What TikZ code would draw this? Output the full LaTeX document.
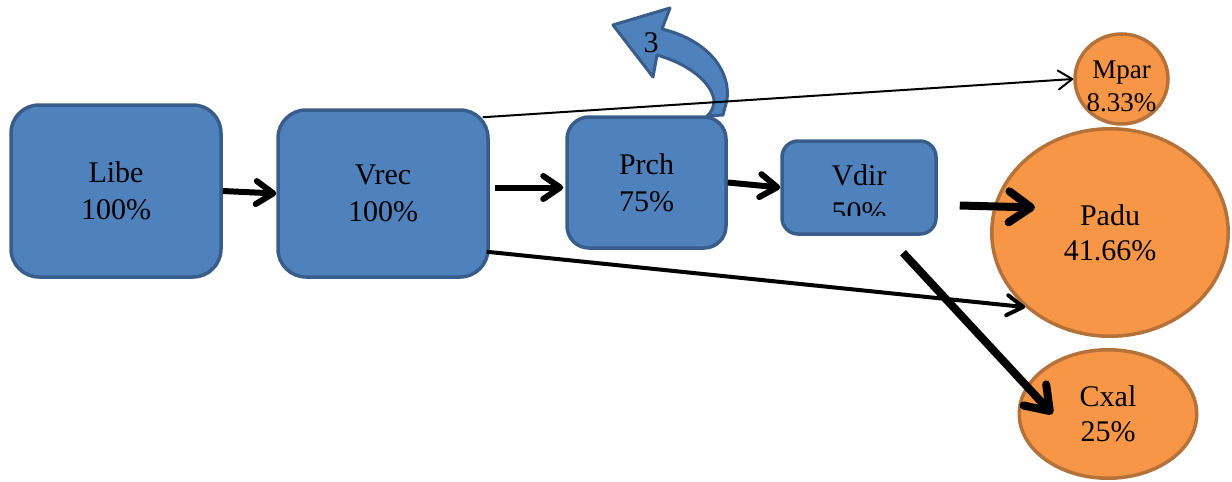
\documentclass[tikz,border=0pt]{standalone}
\usepackage{fontspec}
\setmainfont{Liberation Serif}
\usetikzlibrary{shapes.geometric, arrows.meta, calc}

\definecolor{boxblue}{HTML}{4F81BD}
\definecolor{boxline}{HTML}{385D8A}
\definecolor{dotorange}{HTML}{F79646}
\definecolor{dotline}{HTML}{B5713A}

\begin{document}
\begin{tikzpicture}[x=1pt, y=-1pt,
  stagebox/.style={draw=boxline, fill=boxblue, line width=3.5pt, rounded corners=28pt,
    align=center, font=\fontsize{30}{37}\selectfont},
  outcome/.style={ellipse, draw=dotline, fill=dotorange, line width=3.5pt,
    align=center, inner sep=0pt, font=\fontsize{30}{35}\selectfont},
  thinflow/.style={line width=2pt, -{Straight Barb[length=14pt,width=19pt,round]}},
  midflow/.style={line width=4pt, -{Straight Barb[length=16pt,width=20pt,round]}},
  flow/.style={line width=6pt, -{Straight Barb[length=17pt,width=23pt,round]}},
  heavyflow/.style={line width=8pt, -{Straight Barb[length=22pt,width=31pt,round]}}]
\useasboundingbox (0,0) rectangle (1232,482);

% Stages
\node[stagebox, minimum width=210pt, minimum height=172pt] (libe) at (116,191) {Libe\\100\%};
\node[stagebox, minimum width=210pt, minimum height=167pt] (vrec) at (383,193.5) {Vrec\\100\%};
\node[stagebox, rounded corners=22pt, minimum width=159pt, minimum height=131pt] (prch) at (646.5,182.5) {Prch\\75\%};
\node[stagebox, rounded corners=16pt, minimum width=154pt, minimum height=93pt] (vdir) at (859,187.5) {};
\begin{scope}
\clip (vdir.north west) rectangle ($(vdir.south east)+(0,-20)$);
\node[align=center, font=\fontsize{30}{37}\selectfont] (vdirlbl) at (859,194) {Vdir\\50\%};
\end{scope}

% Outcomes
\node[outcome, minimum width=93pt, minimum height=90pt] (mpar) at (1121.5,79) {};
\node[align=center, font=\fontsize{27}{33}\selectfont] (mparlbl) at (1121.5,86) {Mpar\\8.33\%};
\node[outcome, minimum width=236.5pt, minimum height=207.5pt] (padu) at (1110,232.5) {Padu\\41.66\%};
\node[outcome, minimum width=177.5pt, minimum height=128.5pt] (cxal) at (1108,414) {Cxal\\25\%};

% Turn-back arrow
\draw[boxline, fill=boxblue, line width=3pt, line join=round]
  (613,25) -- (670,8) -- (662,29) .. controls (707,40) and (731,70) .. (727,100)
  -- (723,115) -- (707,116) .. controls (712,112) and (714,106) .. (714,100)
  .. controls (712,86) and (695,66) .. (657,55) -- (653,77) -- cycle;
\node[font=\fontsize{30}{37}\selectfont] (turnlbl) at (651,43) {3};

% Flows
\draw[flow] (libe.east) -- (vrec.west);
\draw[flow] ($(vrec.east)+(5,-6)$) -- ($(prch.west)+(-2,5)$);
\draw[flow] (prch.east) -- (vdir.west);
\draw[thinflow] ($(vrec.north east)+(-7,9)$) -- (mpar.west);
\draw[midflow] ($(vrec.south east)+(-3,-27)$) -- (padu.south west);
\draw[heavyflow] ($(vdir.east)+(22,18)$) -- ($(padu.west)+(45,-25)$);
\draw[heavyflow] ($(vdir.south)+(44,17)$) -- ($(cxal.west)+(35,0)$);
\end{tikzpicture}
\end{document}
